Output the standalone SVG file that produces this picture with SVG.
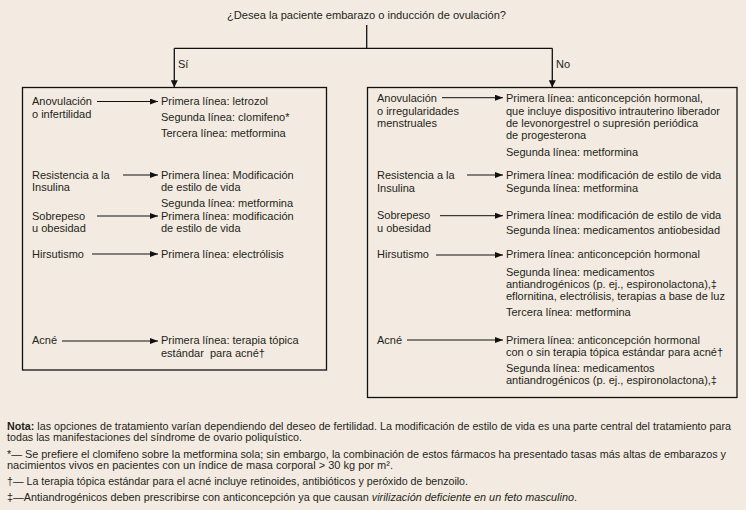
<svg xmlns="http://www.w3.org/2000/svg" width="746" height="510" viewBox="0 0 746 510">
  <defs>
    <style>
      .t { font-family: "Liberation Sans", Arial, sans-serif; font-size: 11px; fill: #231f20; }
      .f { font-family: "Liberation Sans", Arial, sans-serif; font-size: 10.5px; fill: #231f20; }
      .box { fill: none; stroke: #111; stroke-width: 1.3; }
      .ln { fill: none; stroke: #111; stroke-width: 1.3; }
      .ar { fill: none; stroke: #111; stroke-width: 1; }
    </style>
    <marker id="ah" viewBox="0 0 8 6" refX="8" refY="3" markerWidth="8" markerHeight="6" markerUnits="userSpaceOnUse" orient="auto">
      <path d="M0,0 L8,3 L0,6 Z" fill="#111"/>
    </marker>
    <marker id="av" viewBox="0 0 7 7" refX="7" refY="3.5" markerWidth="7" markerHeight="7" markerUnits="userSpaceOnUse" orient="auto">
      <path d="M0,0 L7,3.5 L0,7 Z" fill="#111"/>
    </marker>
  </defs>
  <rect width="746" height="510" fill="#f3ebe1"/>

  <g id="question">
    <text class="t" x="366.5" y="19" text-anchor="middle" textLength="279" lengthAdjust="spacingAndGlyphs">¿Desea la paciente embarazo o inducción de ovulación?</text>
  </g>

  <g id="connectors">
    <path class="ln" d="M366.7,25 V48.3"/>
    <path class="ln" d="M174.3,48.3 H552.3"/>
    <path class="ln" d="M174.3,48.3 V87.3" marker-end="url(#av)"/>
    <path class="ln" d="M552.3,48.3 V87.3" marker-end="url(#av)"/>
    <text class="t" x="178" y="68">Sí</text>
    <text class="t" x="556" y="68">No</text>
    <!-- left box arrows -->
    <path class="ar" d="M97,101.5 H158" marker-end="url(#ah)"/>
    <path class="ar" d="M123,175 H158" marker-end="url(#ah)"/>
    <path class="ar" d="M97,216 H158" marker-end="url(#ah)"/>
    <path class="ar" d="M92,254 H158" marker-end="url(#ah)"/>
    <path class="ar" d="M62,341 H158" marker-end="url(#ah)"/>
    <!-- right box arrows -->
    <path class="ar" d="M442,97.7 H503" marker-end="url(#ah)"/>
    <path class="ar" d="M467,175 H503" marker-end="url(#ah)"/>
    <path class="ar" d="M440,215.7 H503" marker-end="url(#ah)"/>
    <path class="ar" d="M436,255 H503" marker-end="url(#ah)"/>
    <path class="ar" d="M407,340 H503" marker-end="url(#ah)"/>
  </g>

  <g id="box-si">
    <rect class="box" x="22.5" y="87.5" width="304" height="282.5"/>
  </g>
  <g id="si-anovulacion">
    <text class="t" x="32" y="105">Anovulación</text>
    <text class="t" x="32" y="118.3">o infertilidad</text>
  </g>
  <g id="si-anovulacion-tx">
    <text class="t" x="161" y="105">Primera línea: letrozol</text>
    <text class="t" x="161" y="120.7">Segunda línea: clomifeno*</text>
    <text class="t" x="161" y="136.5">Tercera línea: metformina</text>
  </g>
  <g id="si-resistencia">
    <text class="t" x="32" y="178.7">Resistencia a la</text>
    <text class="t" x="32" y="191">Insulina</text>
  </g>
  <g id="si-resistencia-tx">
    <text class="t" x="161" y="178.7">Primera línea: Modificación</text>
    <text class="t" x="161" y="191">de estilo de vida</text>
    <text class="t" x="161" y="206.7">Segunda línea: metformina</text>
  </g>
  <g id="si-sobrepeso">
    <text class="t" x="32" y="219.5">Sobrepeso</text>
    <text class="t" x="32" y="231.5">u obesidad</text>
  </g>
  <g id="si-sobrepeso-tx">
    <text class="t" x="161" y="219.5">Primera línea: modificación</text>
    <text class="t" x="161" y="231.5">de estilo de vida</text>
  </g>
  <g id="si-hirsutismo">
    <text class="t" x="32" y="257.7">Hirsutismo</text>
  </g>
  <g id="si-hirsutismo-tx">
    <text class="t" x="161" y="257.7">Primera línea: electrólisis</text>
  </g>
  <g id="si-acne">
    <text class="t" x="32" y="344.3">Acné</text>
  </g>
  <g id="si-acne-tx">
    <text class="t" x="161" y="344.3">Primera línea: terapia tópica</text>
    <text class="t" x="161" y="357.3" xml:space="preserve">estándar  para acné†</text>
  </g>

  <g id="box-no">
    <rect class="box" x="367.5" y="87.5" width="369.5" height="310"/>
  </g>
  <g id="no-anovulacion">
    <text class="t" x="377" y="101.7">Anovulación</text>
    <text class="t" x="377" y="114.7">o irregularidades</text>
    <text class="t" x="377" y="127.3">menstruales</text>
  </g>
  <g id="no-anovulacion-tx">
    <text class="t" x="506" y="101.7">Primera línea: anticoncepción hormonal,</text>
    <text class="t" x="506" y="114.7">que incluye dispositivo intrauterino liberador</text>
    <text class="t" x="506" y="127.3">de levonorgestrel o supresión periódica</text>
    <text class="t" x="506" y="138.9">de progesterona</text>
    <text class="t" x="506" y="156">Segunda línea: metformina</text>
  </g>
  <g id="no-resistencia">
    <text class="t" x="377" y="179">Resistencia a la</text>
    <text class="t" x="377" y="191.7">Insulina</text>
  </g>
  <g id="no-resistencia-tx">
    <text class="t" x="506" y="179">Primera línea: modificación de estilo de vida</text>
    <text class="t" x="506" y="191.7">Segunda línea: metformina</text>
  </g>
  <g id="no-sobrepeso">
    <text class="t" x="377" y="219.3">Sobrepeso</text>
    <text class="t" x="377" y="231.7">u obesidad</text>
  </g>
  <g id="no-sobrepeso-tx">
    <text class="t" x="506" y="219.3">Primera línea: modificación de estilo de vida</text>
    <text class="t" x="506" y="234.3">Segunda línea: medicamentos antiobesidad</text>
  </g>
  <g id="no-hirsutismo">
    <text class="t" x="377" y="258.3">Hirsutismo</text>
  </g>
  <g id="no-hirsutismo-tx">
    <text class="t" x="506" y="258.3">Primera línea: anticoncepción hormonal</text>
    <text class="t" x="506" y="275.5">Segunda línea: medicamentos</text>
    <text class="t" x="506" y="287.7">antiandrogénicos (p. ej., espironolactona),‡</text>
    <text class="t" x="506" y="300">eflornitina, electrólisis, terapias a base de luz</text>
    <text class="t" x="506" y="315.5">Tercera línea: metformina</text>
  </g>
  <g id="no-acne">
    <text class="t" x="377" y="344">Acné</text>
  </g>
  <g id="no-acne-tx">
    <text class="t" x="506" y="344">Primera línea: anticoncepción hormonal</text>
    <text class="t" x="506" y="356.3">con o sin terapia tópica estándar para acné†</text>
    <text class="t" x="506" y="371.7">Segunda línea: medicamentos</text>
    <text class="t" x="506" y="384">antiandrogénicos (p. ej., espironolactona),‡</text>
  </g>

  <g id="notes">
    <text class="f" x="7" y="430" textLength="724" lengthAdjust="spacingAndGlyphs"><tspan font-weight="bold">Nota:</tspan> las opciones de tratamiento varían dependiendo del deseo de fertilidad. La modificación de estilo de vida es una parte central del tratamiento para</text>
    <text class="f" x="7" y="441" textLength="295" lengthAdjust="spacingAndGlyphs">todas las manifestaciones del síndrome de ovario poliquístico.</text>
    <text class="f" x="7" y="457.5" textLength="719" lengthAdjust="spacingAndGlyphs">*— Se prefiere el clomifeno sobre la metformina sola; sin embargo, la combinación de estos fármacos ha presentado tasas más altas de embarazos y</text>
    <text class="f" x="7" y="468.5" textLength="386" lengthAdjust="spacingAndGlyphs">nacimientos vivos en pacientes con un índice de masa corporal &gt; 30 kg por m².</text>
    <text class="f" x="7" y="485" textLength="461" lengthAdjust="spacingAndGlyphs">†— La terapia tópica estándar para el acné incluye retinoides, antibióticos y peróxido de benzoilo.</text>
    <text class="f" x="7" y="500.7" textLength="570" lengthAdjust="spacingAndGlyphs">‡—Antiandrogénicos deben prescribirse con anticoncepción ya que causan <tspan font-style="italic">virilización deficiente en un feto masculino</tspan>.</text>
  </g>
</svg>
